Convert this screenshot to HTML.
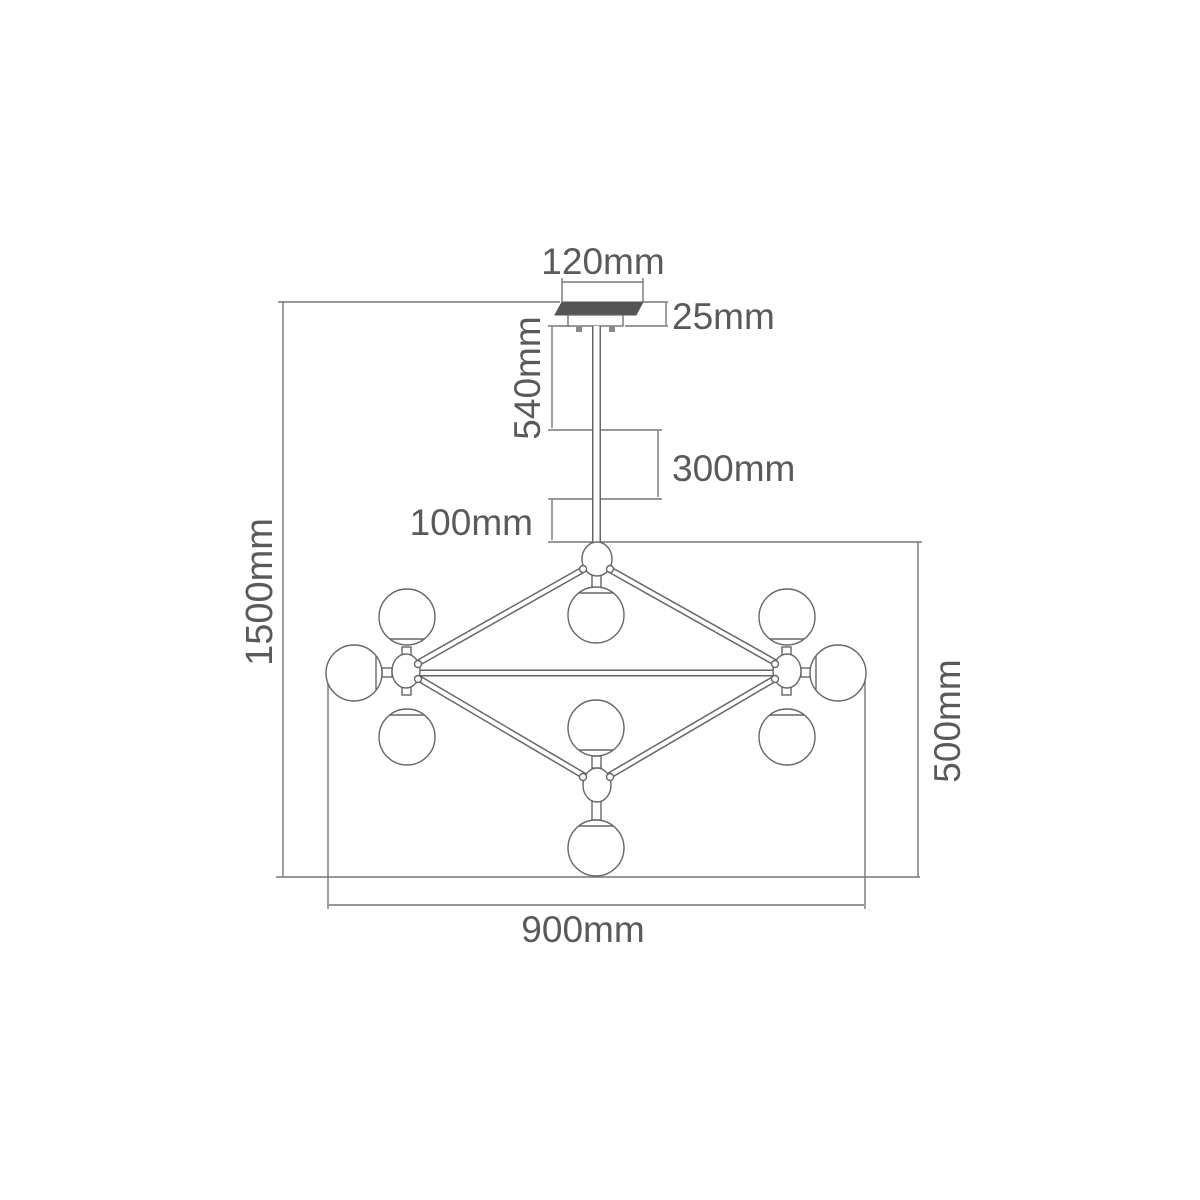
<!DOCTYPE html>
<html><head><meta charset="utf-8"><style>
html,body{margin:0;padding:0;background:#fff;}
svg{display:block}
text{font-family:"Liberation Sans",Arial,sans-serif;fill:#5a5a5a;}
</style></head><body>
<svg width="1200" height="1200" viewBox="0 0 1200 1200" xmlns="http://www.w3.org/2000/svg">
<rect width="1200" height="1200" fill="#fff"/>
<g stroke="#777" stroke-width="1.4" fill="none">
  <line x1="278" y1="302" x2="560" y2="302"/>
  <line x1="283" y1="302" x2="283" y2="877"/>
  <line x1="276" y1="877" x2="920" y2="877"/>
  <line x1="548" y1="542" x2="922" y2="542"/>
  <line x1="918" y1="542" x2="918" y2="877"/>
  <line x1="328" y1="673" x2="328" y2="909"/>
  <line x1="865" y1="673" x2="865" y2="909"/>
  <line x1="329" y1="905" x2="864" y2="905"/>
  <line x1="562" y1="282" x2="643" y2="282"/>
  <line x1="562" y1="278" x2="562" y2="302"/>
  <line x1="643" y1="278" x2="643" y2="302"/>
  <line x1="643" y1="302" x2="668" y2="302"/>
  <line x1="625" y1="326" x2="668" y2="326"/>
  <line x1="666" y1="303" x2="666" y2="325"/>
  <line x1="548" y1="326" x2="570" y2="326"/>
  <line x1="552" y1="327" x2="552" y2="428"/>
  <line x1="548" y1="430" x2="662" y2="430"/>
  <line x1="658" y1="431" x2="658" y2="497"/>
  <line x1="548" y1="499" x2="662" y2="499"/>
  <line x1="552" y1="500" x2="552" y2="540"/>
</g>
<polygon points="562,302 643,302 636,315 555,315" fill="#555" stroke="#555"/>
<rect x="568" y="315" width="55" height="11" fill="#fff" stroke="#666" stroke-width="1.3"/>
<rect x="576" y="326" width="6" height="6" fill="#888"/>
<rect x="609" y="326" width="6" height="6" fill="#888"/>
<line x1="596.5" y1="326" x2="596.5" y2="545" stroke="#666" stroke-width="9"/>
<line x1="596.5" y1="326" x2="596.5" y2="545" stroke="#fff" stroke-width="6"/>

<g>
  <g stroke="#666" stroke-width="7">
    <line x1="586" y1="568" x2="418" y2="663"/>
    <line x1="607" y1="568" x2="776" y2="663"/>
    <line x1="418" y1="678" x2="586" y2="777"/>
    <line x1="776" y1="678" x2="607" y2="777"/>
    <line x1="420" y1="673" x2="774" y2="673"/>
  </g>
  <g stroke="#fff" stroke-width="4">
    <line x1="586" y1="568" x2="418" y2="663"/>
    <line x1="607" y1="568" x2="776" y2="663"/>
    <line x1="418" y1="678" x2="586" y2="777"/>
    <line x1="776" y1="678" x2="607" y2="777"/>
    <line x1="420" y1="673" x2="774" y2="673"/>
  </g>
</g>

<g stroke="#666" stroke-width="1.4" fill="#fff">
  <rect x="592" y="574" width="9" height="14"/>
  <rect x="402" y="647" width="9" height="10"/>
  <rect x="402" y="685" width="9" height="10"/>
  <rect x="382" y="668" width="10" height="9"/>
  <rect x="782" y="647" width="9" height="10"/>
  <rect x="782" y="685" width="9" height="10"/>
  <rect x="801" y="668" width="10" height="9"/>
  <rect x="592" y="756" width="9" height="12"/>
  <rect x="592" y="800" width="9" height="20"/>

  <circle cx="596" cy="615" r="28"/>
  <line x1="579" y1="593" x2="613" y2="593"/>
  <circle cx="407" cy="617" r="28"/>
  <line x1="390" y1="639" x2="424" y2="639"/>
  <circle cx="407" cy="737" r="28"/>
  <line x1="390" y1="715" x2="424" y2="715"/>
  <circle cx="354" cy="673" r="28"/>
  <line x1="376" y1="656" x2="376" y2="690"/>
  <circle cx="787" cy="617" r="28"/>
  <line x1="770" y1="639" x2="804" y2="639"/>
  <circle cx="787" cy="737" r="28"/>
  <line x1="770" y1="715" x2="804" y2="715"/>
  <circle cx="838" cy="673" r="28"/>
  <line x1="816" y1="656" x2="816" y2="690"/>
  <circle cx="596" cy="728" r="28"/>
  <line x1="579" y1="750" x2="613" y2="750"/>
  <circle cx="596" cy="848" r="28"/>
  <line x1="579" y1="826" x2="613" y2="826"/>

  <ellipse cx="597" cy="559" rx="15" ry="17"/>
  <ellipse cx="406" cy="671" rx="14" ry="17"/>
  <ellipse cx="787" cy="671" rx="14" ry="17"/>
  <ellipse cx="597" cy="785" rx="14" ry="17"/>
  <circle cx="583" cy="569" r="3.5"/>
  <circle cx="610" cy="569" r="3.5"/>
  <circle cx="418" cy="664" r="3.5"/>
  <circle cx="418" cy="679" r="3.5"/>
  <circle cx="775" cy="664" r="3.5"/>
  <circle cx="775" cy="679" r="3.5"/>
  <circle cx="583" cy="777" r="3.5"/>
  <circle cx="610" cy="777" r="3.5"/>
</g>

<text x="603" y="274" font-size="37" text-anchor="middle">120mm</text>
<text x="672" y="329" font-size="37">25mm</text>
<text x="672" y="481" font-size="37">300mm</text>
<text x="533" y="535" font-size="37" text-anchor="end">100mm</text>
<text x="583" y="942" font-size="37" text-anchor="middle">900mm</text>
<text transform="translate(540,378) rotate(-90)" font-size="37" text-anchor="middle">540mm</text>
<text transform="translate(272,592) rotate(-90)" font-size="38" text-anchor="middle">1500mm</text>
<text transform="translate(960,721) rotate(-90)" font-size="37" text-anchor="middle">500mm</text>
</svg>
</body></html>
